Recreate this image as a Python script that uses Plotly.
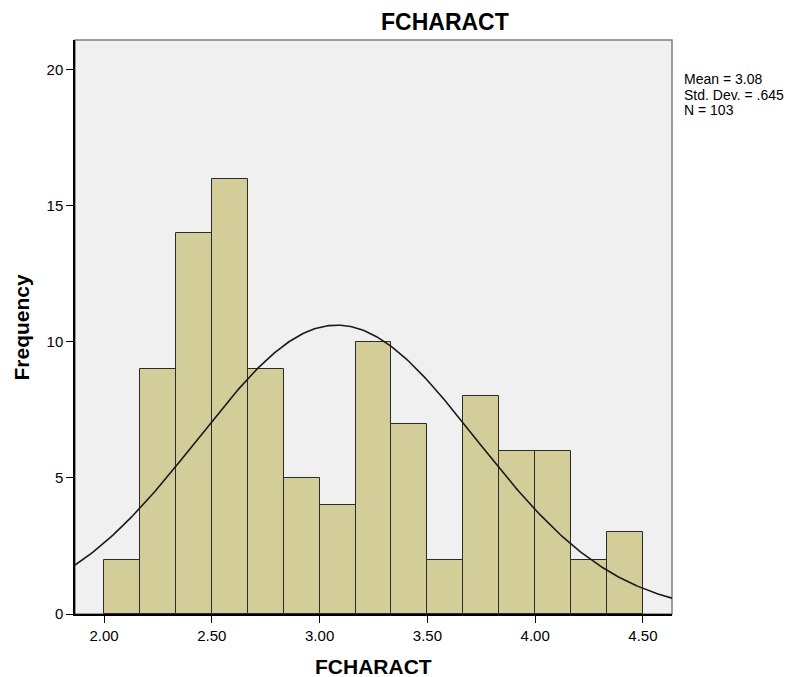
import numpy as np
import plotly.graph_objects as go

bin_start = 2.0
bin_width = 2.5 / 15
counts = [2, 9, 14, 16, 9, 5, 4, 10, 7, 2, 8, 6, 6, 2, 3]
mean_val = 3.08
sd_val = 0.645
n_val = 103
x_ticks = [2.0, 2.5, 3.0, 3.5, 4.0, 4.5]
x_tick_labels = ["2.00", "2.50", "3.00", "3.50", "4.00", "4.50"]
y_ticks = [0, 5, 10, 15, 20]
stats_lines = ["Mean = 3.08", "Std. Dev. = .645", "N = 103"]

centers = [bin_start + bin_width * (i + 0.5) for i in range(len(counts))]

x_range = [1.865, 4.635]
xs = np.linspace(x_range[0], x_range[1], 300)
ys = n_val * bin_width / (sd_val * np.sqrt(2 * np.pi)) * np.exp(-0.5 * ((xs - mean_val) / sd_val) ** 2)

fig = go.Figure()
fig.add_trace(go.Bar(x=centers, y=counts, width=bin_width,
                     marker=dict(color="#D3CE99", line=dict(color="#2b2b2b", width=1)),
                     showlegend=False, hoverinfo="skip"))
fig.add_trace(go.Scatter(x=xs, y=ys, mode="lines", line=dict(color="#1a1a1a", width=1.6),
                         showlegend=False, hoverinfo="skip"))

font = "Liberation Sans, Arial, sans-serif"
# page has an 8px body margin; plot area should span x 75-672, y 40-614 on the page
W, H = 787, 669
L, T = 67, 32
PW, PH = 597, 574
fig.update_layout(
    width=W, height=H,
    margin=dict(l=L, r=W - L - PW, t=T, b=H - T - PH, autoexpand=False),
    paper_bgcolor="white", plot_bgcolor="#F0F0F0",
    font=dict(family=font, color="black"),
    bargap=0,
    xaxis=dict(range=x_range, tickvals=x_ticks, ticktext=x_tick_labels,
               ticks="outside", ticklen=7, tickcolor="black", showgrid=False, zeroline=False,
               showline=True, linecolor="black", linewidth=1.5,
               tickfont=dict(size=15, family=font), automargin=False),
    yaxis=dict(range=[0, 21.1], tickvals=y_ticks,
               ticks="outside", ticklen=7, tickcolor="black", showgrid=False, zeroline=False,
               showline=True, linecolor="black", linewidth=1.5,
               tickfont=dict(size=15, family=font), automargin=False),
    shapes=[dict(type="rect", xref="paper", yref="paper", x0=0, y0=0, x1=1, y1=1,
                 line=dict(color="#7f7f7f", width=1.5), fillcolor="rgba(0,0,0,0)", layer="below")],
)

ann = [
    dict(text="<b>FCHARACT</b>", xref="paper", yref="paper",
         x=(444.5 - 75) / PW, y=1, yshift=18.5, xanchor="center", yanchor="middle",
         showarrow=False, font=dict(size=23, family=font)),
    dict(text="<b>FCHARACT</b>", xref="paper", yref="paper",
         x=0.5, y=0, yshift=-52, xanchor="center", yanchor="middle",
         showarrow=False, font=dict(size=21, family=font)),
    dict(text="<b>Frequency</b>", xref="paper", yref="paper", textangle=-90,
         x=0, xshift=-54.5, y=0.5, xanchor="center", yanchor="middle",
         showarrow=False, font=dict(size=21, family=font)),
]
for i, line in enumerate(stats_lines):
    ann.append(dict(text=line, xref="paper", yref="paper",
                    x=1, xshift=10, y=1, yshift=-(39 + 15.7 * i), xanchor="left", yanchor="middle",
                    align="left", showarrow=False, font=dict(size=14, family=font)))
fig.update_layout(annotations=ann)
fig.write_html("out.html")
